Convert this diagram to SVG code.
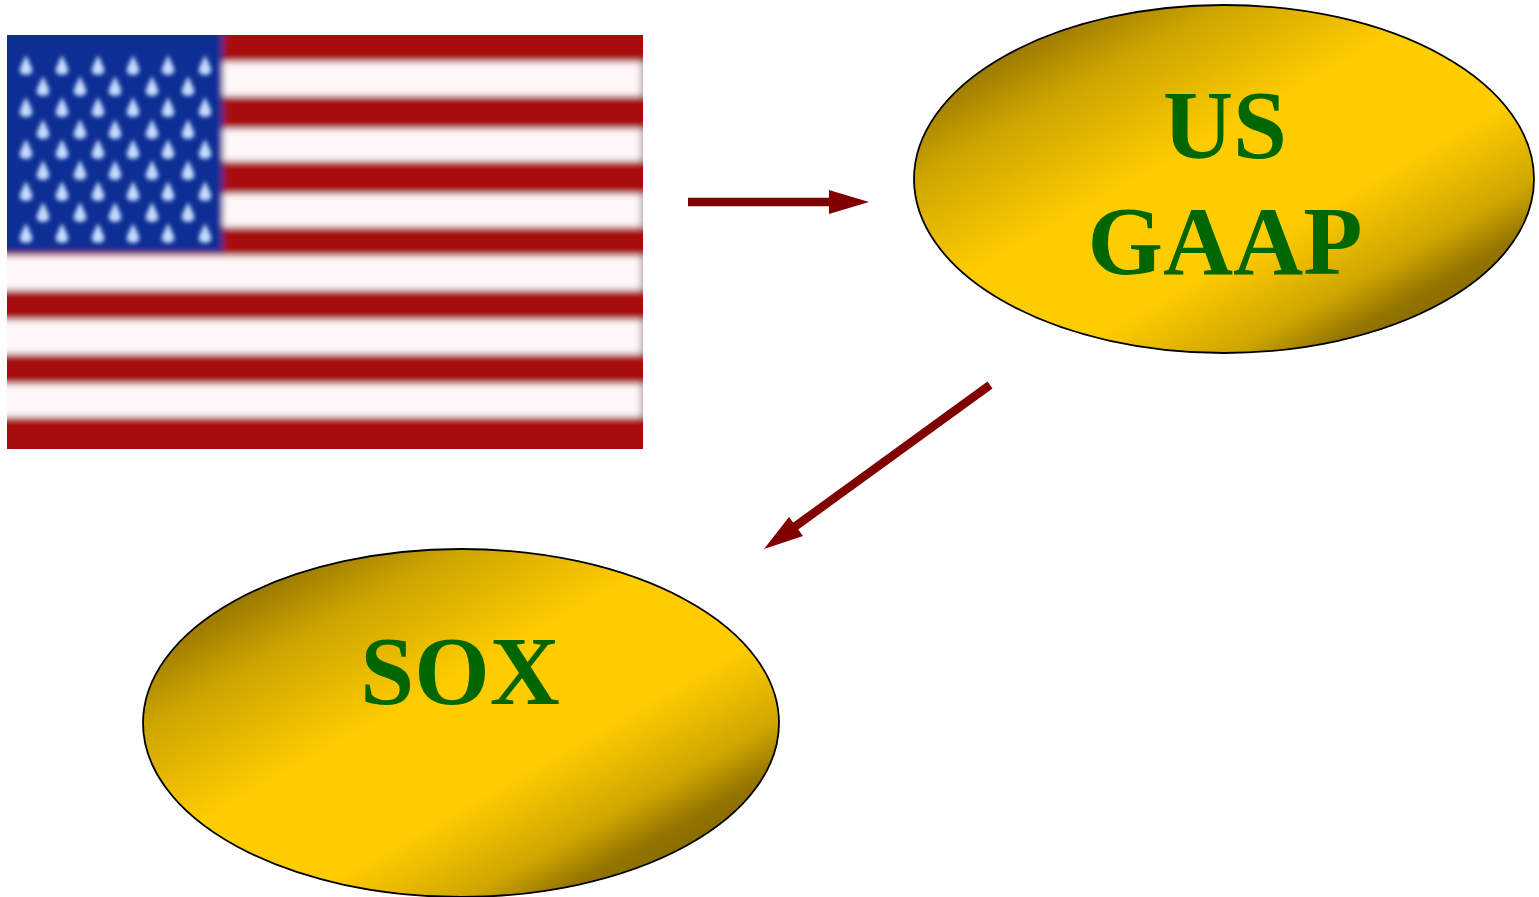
<svg xmlns="http://www.w3.org/2000/svg" xmlns:xlink="http://www.w3.org/1999/xlink" width="1539" height="897" viewBox="0 0 1539 897">
<style>
.lbl{font-family:"Liberation Serif","Times New Roman",serif;font-weight:700;font-size:97px;fill:#006600;text-anchor:middle}
.oval{stroke:#000;stroke-width:1.8}
.conn{stroke:#800000;stroke-width:8.5;fill:none}
.head{fill:#800000}
.red{fill:#a80809}
.wht{fill:#fff6f7}
</style>
<defs>
<linearGradient id="gold" gradientUnits="userSpaceOnUse" x1="1111" y1="-21" x2="1337" y2="379">
<stop offset="0" stop-color="#927300"/><stop offset="0.043" stop-color="#a07e00"/><stop offset="0.163" stop-color="#cba400"/><stop offset="0.41" stop-color="#ffcc00"/><stop offset="0.66" stop-color="#ffcc00"/><stop offset="0.837" stop-color="#cfa600"/><stop offset="0.926" stop-color="#947500"/><stop offset="1" stop-color="#856800"/>
</linearGradient>
<linearGradient id="gold2" xlink:href="#gold" gradientTransform="translate(-763,544)"/>
<filter id="blur" x="-5%" y="-5%" width="110%" height="110%"><feGaussianBlur stdDeviation="3"/></filter>
<filter id="sblur" x="-10%" y="-10%" width="120%" height="120%"><feGaussianBlur stdDeviation="2"/></filter>
<clipPath id="flagclip"><rect x="7" y="35" width="636" height="414"/></clipPath>
<path id="star" d="M0,-11 L6,2 Q7.5,9 0,9 Q-7.5,9 -6,2 Z" fill="#c4dcff"/>
</defs>
<g id="flag" clip-path="url(#flagclip)">
<g filter="url(#blur)">
<rect class="wht" x="0" y="30" width="650" height="425"/>
<rect fill="#b9b4b8" x="640" y="30" width="12" height="425"/>
<rect class="red" x="0" y="20" width="660" height="42"/>
<rect class="red" x="0" y="96" width="660" height="33"/>
<rect class="red" x="0" y="161" width="660" height="33"/>
<rect class="red" x="0" y="227" width="660" height="29"/>
<rect class="red" x="0" y="290" width="660" height="30"/>
<rect class="red" x="0" y="354" width="660" height="30"/>
<rect class="red" x="0" y="417" width="660" height="50"/>
<rect fill="#0a2f94" x="-10" y="20" width="233" height="233"/>
</g>
<g filter="url(#sblur)">
<use xlink:href="#star" x="26" y="66"/><use xlink:href="#star" x="62" y="66"/><use xlink:href="#star" x="98" y="66"/><use xlink:href="#star" x="133" y="66"/><use xlink:href="#star" x="168" y="66"/><use xlink:href="#star" x="205" y="66"/>
<use xlink:href="#star" x="43" y="87"/><use xlink:href="#star" x="80" y="87"/><use xlink:href="#star" x="115" y="87"/><use xlink:href="#star" x="152" y="87"/><use xlink:href="#star" x="188" y="87"/>
<use xlink:href="#star" x="26" y="108"/><use xlink:href="#star" x="62" y="108"/><use xlink:href="#star" x="98" y="108"/><use xlink:href="#star" x="133" y="108"/><use xlink:href="#star" x="168" y="108"/><use xlink:href="#star" x="205" y="108"/>
<use xlink:href="#star" x="43" y="130"/><use xlink:href="#star" x="80" y="130"/><use xlink:href="#star" x="115" y="130"/><use xlink:href="#star" x="152" y="130"/><use xlink:href="#star" x="188" y="130"/>
<use xlink:href="#star" x="26" y="150"/><use xlink:href="#star" x="62" y="150"/><use xlink:href="#star" x="98" y="150"/><use xlink:href="#star" x="133" y="150"/><use xlink:href="#star" x="168" y="150"/><use xlink:href="#star" x="205" y="150"/>
<use xlink:href="#star" x="43" y="171"/><use xlink:href="#star" x="80" y="171"/><use xlink:href="#star" x="115" y="171"/><use xlink:href="#star" x="152" y="171"/><use xlink:href="#star" x="188" y="171"/>
<use xlink:href="#star" x="26" y="192"/><use xlink:href="#star" x="62" y="192"/><use xlink:href="#star" x="98" y="192"/><use xlink:href="#star" x="133" y="192"/><use xlink:href="#star" x="168" y="192"/><use xlink:href="#star" x="205" y="192"/>
<use xlink:href="#star" x="43" y="213"/><use xlink:href="#star" x="80" y="213"/><use xlink:href="#star" x="115" y="213"/><use xlink:href="#star" x="152" y="213"/><use xlink:href="#star" x="188" y="213"/>
<use xlink:href="#star" x="26" y="234"/><use xlink:href="#star" x="62" y="234"/><use xlink:href="#star" x="98" y="234"/><use xlink:href="#star" x="133" y="234"/><use xlink:href="#star" x="168" y="234"/><use xlink:href="#star" x="205" y="234"/>
</g>
</g>
<g id="connectors">
<line class="conn" x1="688" y1="202" x2="832" y2="202"/>
<polygon class="head" points="829,190 869,202 829,214"/>
<line class="conn" x1="990" y1="385" x2="793" y2="528"/>
<polygon class="head" points="789,517 803,536 764,549"/>
</g>
<g id="us-gaap">
<ellipse class="oval" cx="1224" cy="179" rx="310" ry="174" fill="url(#gold)"/>
<text class="lbl" x="1225" y="158">US</text>
<text class="lbl" x="1225" y="274">GAAP</text>
</g>
<g id="sox">
<ellipse class="oval" cx="461" cy="723" rx="318" ry="174" fill="url(#gold2)"/>
<text class="lbl" x="460" y="704">SOX</text>
</g>
</svg>
